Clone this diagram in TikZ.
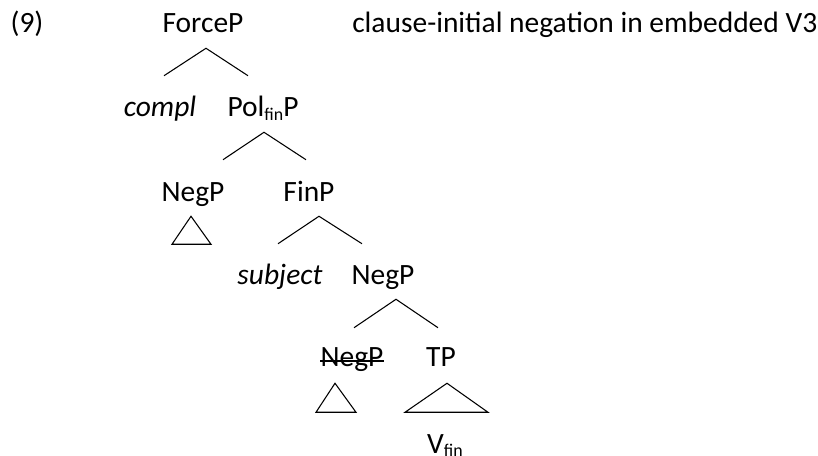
\documentclass[tikz,border=0pt]{standalone}
\usepackage{fontspec}
\setmainfont{Carlito}
\usetikzlibrary{calc}
\definecolor{Ink}{HTML}{000000}
\newcommand{\fin}{\raisebox{-2.3pt}{\fontsize{13.4}{13.4}\selectfont fin}}
\tikzset{
  cat/.style={
    anchor=base, inner sep=0pt, text=Ink,
    text height=18*0.75pt, text depth=0pt,
    font=\fontsize{22.1}{26}\selectfont
  },
  branch/.style={draw=Ink, line width=0.8pt},
  roof/.style={draw=Ink, line width=0.8pt, line join=miter},
  strike/.style={draw=Ink, line width=1.1pt}
}

\begin{document}
\begin{tikzpicture}[x=0.75pt,y=-0.75pt]
    \useasboundingbox (0,0) rectangle (818,456);
    \node[cat] (ex) at (27,33) {(9)};
    \node[cat,anchor=base west] (title) at (352,33) {clause-initial negation in embedded V3};
    \node[cat] (force) at (203,33) {ForceP};
    \node[cat] (compl) at (160,117) {\textit{compl}};
    \node[cat] (pol) at (263,117) {Pol\fin P};
    \node[cat] (negA) at (193,202) {NegP};
    \node[cat] (fin) at (309,202) {FinP};
    \node[cat] (subj) at (280,284) {\textit{subject}};
    \node[cat] (negB) at (383,284) {NegP};
    \node[cat] (negC) at (352,366) {NegP};
    \node[cat] (tp) at (441,366) {TP};
    \node[cat] (vfin) at (445,453) {V\fin};
    % crossed-out label
    \draw[strike] ($(negC.base west)+(0,-5)$) -- ($(negC.base east)+(0,-5)$);
    % branches
    \draw[branch] ($(compl.north)+(4,-23)$) -- ($(force.south)+(3,15)$) -- ($(pol.north)+(-15,-23)$);
    \draw[branch] ($(negA.north)+(30,-24)$) -- ($(pol.south)+(1,15)$) -- ($(fin.north)+(-3,-24)$);
    \draw[branch] ($(subj.north)+(-2,-22)$) -- ($(fin.south)+(10,14)$) -- ($(negB.north)+(-21,-22)$);
    \draw[branch] ($(negC.north)+(2,-20)$) -- ($(negB.south)+(13,15)$) -- ($(tp.north)+(-3,-20)$);
    % roofs
    \draw[roof] ($(negA.south)+(-2,14)$) -- ($(negA.south)+(-21,42)$) -- ($(negA.south)+(18,42)$) -- cycle;
    \draw[roof] ($(negC.south)+(-17,17)$) -- ($(negC.south)+(-36,46)$) -- ($(negC.south)+(4,46)$) -- cycle;
    \draw[roof] ($(tp.south)+(6,17)$) -- ($(tp.south)+(-36,46)$) -- ($(tp.south)+(47,46)$) -- cycle;
\end{tikzpicture}
\end{document}
